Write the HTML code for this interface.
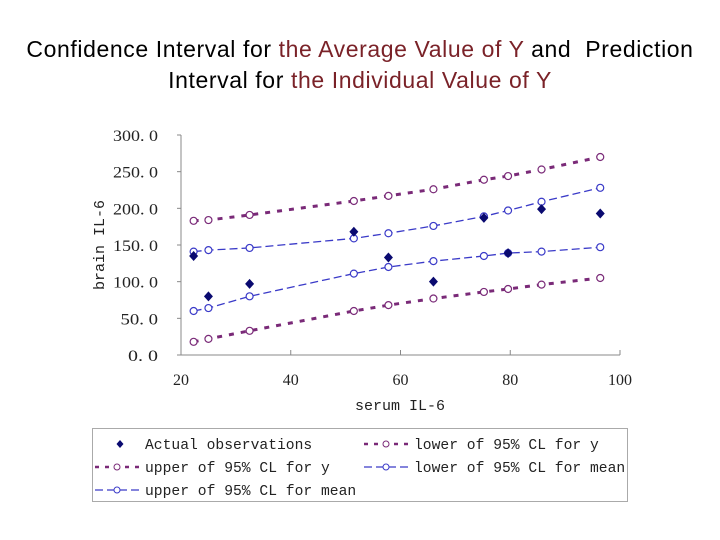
<!DOCTYPE html>
<html><head><meta charset="utf-8"><style>
body{margin:0;background:#fff;width:720px;height:540px;overflow:hidden}
.t{position:absolute;left:0;width:720px;text-align:center;font-family:"Liberation Sans",sans-serif;font-size:23px;letter-spacing:0.6px;color:#000;white-space:nowrap}
.r{color:#7a2228}
</style></head><body>
<div class="t" style="top:36px">Confidence Interval for <span class="r">the Average Value of Y</span> and&nbsp; Prediction</div>
<div class="t" style="top:67px">Interval for <span class="r">the Individual Value of Y</span></div>
<svg id="c" width="720" height="540" style="position:absolute;left:0;top:0" font-family="'Liberation Mono','Noto Sans CJK SC',monospace"></svg>
<script>
const xs=[22.3,25,32.5,51.5,57.8,66,75.2,79.6,85.7,96.4];
const actual=[135,80,97,168,133,100,187,139,199,193];
const upperY=[183,184,191,210,217,226,239,244,253,270];
const lowerY=[18,22,33,60,68,77,86,90,96,105];
const upperMean=[141,143,146,159,166,176,189,197,209,228];
const lowerMean=[60,64,80,111,120,128,135,139,141,147];
const xTicks=[20,40,60,80,100];
const yTicks=[0,50,100,150,200,250,300];
const yLabels=["0. 0","50. 0","100. 0","150. 0","200. 0","250. 0","300. 0"];
const svg=document.getElementById('c');const NS='http://www.w3.org/2000/svg';
const X=v=>181+(v-20)*(620-181)/80, Y=v=>355-v*(355-135)/300;
function el(t,a,p){const e=document.createElementNS(NS,t);for(const k in a)e.setAttribute(k,a[k]);(p||svg).appendChild(e);return e;}
const SERIF="'Liberation Serif','Noto Serif CJK SC',serif";
let ax=el('line',{x1:181,y1:135,x2:181,y2:355,stroke:'#888'});


let bx=el('line',{x1:181,y1:355,x2:620,y2:355,stroke:'#888'});


yTicks.forEach((v,i)=>{el('line',{x1:177,x2:181,y1:Y(v),y2:Y(v),stroke:'#888'});
const lab=yLabels[i];
const t=el('text',{x:158,y:Y(v)+6,'text-anchor':'end','font-size':16,'font-family':SERIF,fill:'#222',textLength:lab.length*7.5,lengthAdjust:'spacingAndGlyphs'});t.textContent=lab;

});
xTicks.forEach(v=>{el('line',{x1:X(v),x2:X(v),y1:355,y2:350,stroke:'#888'});
const s=String(v);
const t=el('text',{x:X(v),y:385,'text-anchor':'middle','font-size':16,'font-family':SERIF,fill:'#222',textLength:s.length*8,lengthAdjust:'spacingAndGlyphs'});t.textContent=s;

});
let xt=el('text',{x:400,y:410,'text-anchor':'middle','font-size':15,fill:'#222'});xt.textContent='serum IL-6';


let yt=el('text',{x:0,y:0,'text-anchor':'middle','font-size':15,fill:'#222',transform:'translate(104,245) rotate(-90)'});yt.textContent='brain IL-6';


function series(vals,color,w,dash,name){
 const g=el('g',{});
 
 
 el('polyline',{points:vals.map((v,i)=>X(xs[i])+','+Y(v)).join(' '),fill:'none',stroke:color,'stroke-width':w,'stroke-dasharray':dash},g);
 vals.forEach((v,i)=>el('circle',{cx:X(xs[i]),cy:Y(v),r:3.5,fill:'#fff',stroke:color,'stroke-width':1.2},g));
}
series(upperY,'#7a2a78',3,'5 7','series-upper-y');
series(lowerY,'#7a2a78',3,'5 7','series-lower-y');
series(upperMean,'#3a3ac8',1.3,'8 4','series-upper-mean');
series(lowerMean,'#3a3ac8',1.3,'8 4','series-lower-mean');
const ga=el('g',{});


actual.forEach((v,i)=>{const x=X(xs[i]),y=Y(v);el('polygon',{points:`${x},${y-5} ${x+4.5},${y} ${x},${y+5} ${x-4.5},${y}`,fill:'#0a0a70'},ga);});
const lg=el('g',{});


el('rect',{x:92.5,y:428.5,width:535,height:73,fill:'#fff',stroke:'#aaa'},lg);
function entry(x,y,kind,label){
 const g=el('g',{},lg);
 
 
 if(kind==='d'){el('polygon',{points:`${x+25},${y-4} ${x+28.5},${y} ${x+25},${y+4} ${x+21.5},${y}`,fill:'#0a0a70'},g);}
 else{const c=kind==='p'?'#7a2a78':'#3a3ac8';
 el('line',{x1:x,x2:x+48,y1:y,y2:y,stroke:c,'stroke-width':kind==='p'?2.5:1.3,'stroke-dasharray':kind==='p'?'4 6':'8 4'},g);
 el('circle',{cx:x+22,cy:y,r:3,fill:'#fff',stroke:c},g);}
 const t=el('text',{x:x+50,y:y+5,'font-size':15,fill:'#222',textLength:label.length*8.8,lengthAdjust:'spacingAndGlyphs'},g);t.textContent=label;
}
entry(95,444,'d','Actual observations');
entry(364,444,'p','lower of 95% CL for y');
entry(95,467,'p','upper of 95% CL for y');
entry(364,467,'b','lower of 95% CL for mean');
entry(95,490,'b','upper of 95% CL for mean');
</script>
</body></html>
